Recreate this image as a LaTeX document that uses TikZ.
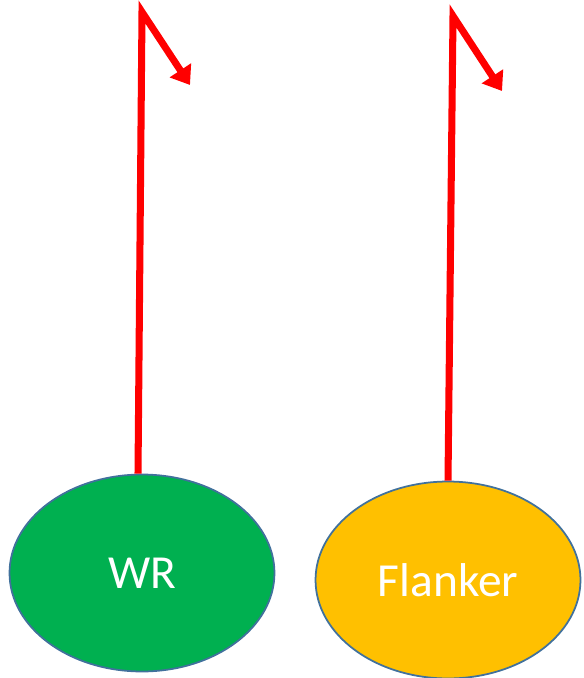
\documentclass[tikz,border=0pt]{standalone}
\usepackage{fontspec}
\setmainfont{Carlito}
\usetikzlibrary{shapes.geometric,arrows.meta}
\definecolor{wrgreen}{HTML}{00B050}
\definecolor{flankorange}{HTML}{FFC000}
\definecolor{rimblue}{HTML}{41719C}
\begin{document}
\begin{tikzpicture}[x=0.02cm, y=-0.02cm]
    \tikzstyle{player} = [ellipse, draw=rimblue, line width=1pt, text=white, inner sep=0pt, minimum width=5.3cm, minimum height=3.94cm, font=\fontsize{27}{32}\selectfont]
    \tikzstyle{route} = [red, line width=4pt, -{Triangle[length=10pt, width=14pt]}]

    \useasboundingbox (0,0) rectangle (583,678);

    % Players
    \node [player, fill=wrgreen] (wr) at (142,573) {WR};
    \node [player, fill=flankorange] (fl) at (448,580) {Flanker};

    % Route corners and ends
    \coordinate (wrtop) at (142,12);
    \coordinate (wrend) at (190,85);
    \coordinate (fltop) at (453,16);
    \coordinate (flend) at (502,91);

    % Routes
    \draw [route] ([xshift=-0.08cm]wr.north) -- (wrtop) -- (wrend);
    \draw [route] (fl.north) -- (fltop) -- (flend);
\end{tikzpicture}
\end{document}
